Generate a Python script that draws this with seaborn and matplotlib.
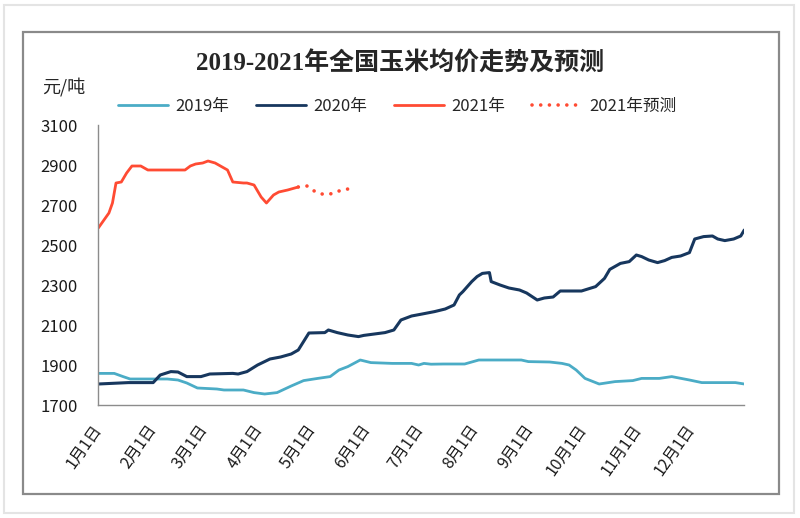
import pandas as pd
import matplotlib
matplotlib.use("Agg")
import matplotlib.pyplot as plt
import matplotlib.dates as mdates
from matplotlib.patches import Rectangle
from matplotlib.lines import Line2D
import seaborn as sns

# days counted from Jan 1, prices in 元/吨
days_2019 = [0, 9, 14, 18, 31, 39, 45, 50, 56, 67, 71, 82, 88, 94, 101, 109, 116, 124, 131, 136,
             141, 148, 154, 166, 177, 181, 184, 188, 195, 207, 215, 239, 243, 255, 262, 266, 270, 275, 283, 292,
             302, 307, 317, 324, 334, 341, 360, 365]
price_2019 = [1858, 1858, 1842, 1830, 1830, 1830, 1825, 1810, 1785, 1780, 1775, 1775, 1762, 1755, 1762, 1795, 1822, 1833, 1842, 1875,
              1892, 1925, 1912, 1908, 1908, 1900, 1908, 1904, 1905, 1905, 1925, 1925, 1917, 1915, 1908, 1900, 1875, 1833, 1805, 1817,
              1822, 1833, 1833, 1842, 1825, 1812, 1812, 1805]

days_2020 = [0, 17, 31, 35, 41, 45, 50, 58, 63, 76, 79, 84, 90, 97, 103, 109, 113, 119, 128, 130,
             135, 141, 147, 150, 156, 162, 167, 171, 177, 183, 190, 196, 201, 204, 206, 211, 214, 217, 221, 222,
             227, 232, 238, 242, 248, 252, 257, 261, 273, 281, 286, 289, 295, 300, 304, 307, 311, 316, 320, 324,
             329, 334, 337, 342, 347, 350, 354, 359, 363, 365]
price_2020 = [1805, 1812, 1812, 1850, 1867, 1865, 1842, 1842, 1855, 1858, 1855, 1867, 1900, 1930, 1940, 1955, 1975, 2060, 2062, 2075,
              2062, 2050, 2042, 2048, 2055, 2062, 2075, 2125, 2145, 2155, 2167, 2180, 2200, 2250, 2267, 2317, 2342, 2358, 2362, 2317,
              2300, 2285, 2275, 2260, 2225, 2235, 2240, 2270, 2270, 2292, 2333, 2378, 2408, 2417, 2450, 2442, 2425, 2412, 2422, 2438,
              2445, 2462, 2530, 2542, 2545, 2530, 2522, 2530, 2545, 2575]

days_2021 = [0, 4, 6, 8, 10, 13, 16, 19, 24, 28, 49, 52, 55, 59, 62, 66, 70, 73, 76, 82,
             84, 88, 92, 95, 99, 102, 107, 113]
price_2021 = [2585, 2635, 2660, 2710, 2810, 2815, 2860, 2895, 2895, 2875, 2875, 2895, 2905, 2910, 2920, 2910, 2890, 2875, 2815, 2810,
              2810, 2800, 2740, 2710, 2750, 2765, 2775, 2790]

days_forecast = [113, 118, 122, 126, 131, 136, 141]
price_forecast = [2790, 2795, 2770, 2755, 2755, 2770, 2780]

month_labels = ["1月1日", "2月1日", "3月1日", "4月1日", "5月1日", "6月1日",
                "7月1日", "8月1日", "9月1日", "10月1日", "11月1日", "12月1日"]
series_labels = ["2019年", "2020年", "2021年", "2021年预测"]
colors = ["#4BACC6", "#17375E", "#FF4B33", "#FF4B33"]


def to_frame(days, price):
    dates = pd.Timestamp("2020-01-01") + pd.to_timedelta(days, unit="D")
    return pd.DataFrame({"date": dates, "price": price})


sns.set_style("white")
plt.rcParams["font.family"] = ["Noto Sans CJK SC", "DejaVu Sans"]

fig = plt.figure(figsize=(8, 5.18), dpi=100)
ax = fig.add_axes([98.3 / 800, 1 - 405 / 518, 646 / 800, 280 / 518])

dotted = (0, (0.01, 2.4))
sns.lineplot(data=to_frame(days_2019, price_2019), x="date", y="price", ax=ax, color=colors[0], lw=2)
sns.lineplot(data=to_frame(days_2020, price_2020), x="date", y="price", ax=ax, color=colors[1], lw=2.2)
sns.lineplot(data=to_frame(days_2021, price_2021), x="date", y="price", ax=ax, color=colors[2], lw=2)
sns.lineplot(data=to_frame(days_forecast, price_forecast), x="date", y="price", ax=ax, color=colors[3],
             lw=2.6, linestyle=dotted, dash_capstyle="round")

# axes
ax.set_ylim(1700, 3100)
ax.set_yticks(range(1700, 3101, 200))
ax.set_xlim(pd.Timestamp("2020-01-01"), pd.Timestamp("2020-12-31"))
ticks = list(pd.date_range("2020-01-01", "2020-12-01", freq="MS")) + [pd.Timestamp("2020-12-31")]
ax.set_xticks(ticks)
ax.set_xticklabels(month_labels + [""], rotation=55, ha="right", va="center", rotation_mode="anchor")
ax.set_xlabel("")
ax.set_ylabel("")
for side in ["top", "right"]:
    ax.spines[side].set_visible(False)
for side in ["left", "bottom"]:
    ax.spines[side].set_color("#8C8C8C")
    ax.spines[side].set_linewidth(1)
ax.tick_params(axis="both", direction="out", length=4, width=1, color="#8C8C8C", labelsize=12, labelcolor="#1A1A1A")
ax.tick_params(axis="y", pad=11)
ax.tick_params(axis="x", pad=11, labelsize=11.5)

# legend
handles = [Line2D([], [], color=c, lw=2) for c in colors[:3]]
handles.append(Line2D([], [], color=colors[3], lw=2.6, linestyle=dotted, dash_capstyle="round"))
fig.legend(handles, series_labels, loc="upper left", bbox_to_anchor=(118 / 800, 1 - 98 / 518),
           ncol=4, frameon=False, fontsize=12, handlelength=3.0, handletextpad=0.45,
           columnspacing=1.6, borderaxespad=0, borderpad=0)

# titles
fig.text(0.5, 1 - 64 / 518, "2019-2021年全国玉米均价走势及预测", ha="center", va="center",
         fontsize=18, fontweight="bold", family=["Liberation Serif", "Noto Sans CJK SC"])
fig.text(42 / 800, 1 - 87 / 518, "元/吨", ha="left", va="center", fontsize=13)

# frames
fig.patches.append(Rectangle((4 / 800, 5 / 518), 790 / 800, 508 / 518, transform=fig.transFigure,
                             fill=False, edgecolor="#E4E4E4", lw=1.5))
fig.patches.append(Rectangle((23 / 800, 1 - 494 / 518), 756 / 800, 462 / 518, transform=fig.transFigure,
                             fill=False, edgecolor="#8A8A8A", lw=1.6))

fig.savefig("out.png", dpi=100)
